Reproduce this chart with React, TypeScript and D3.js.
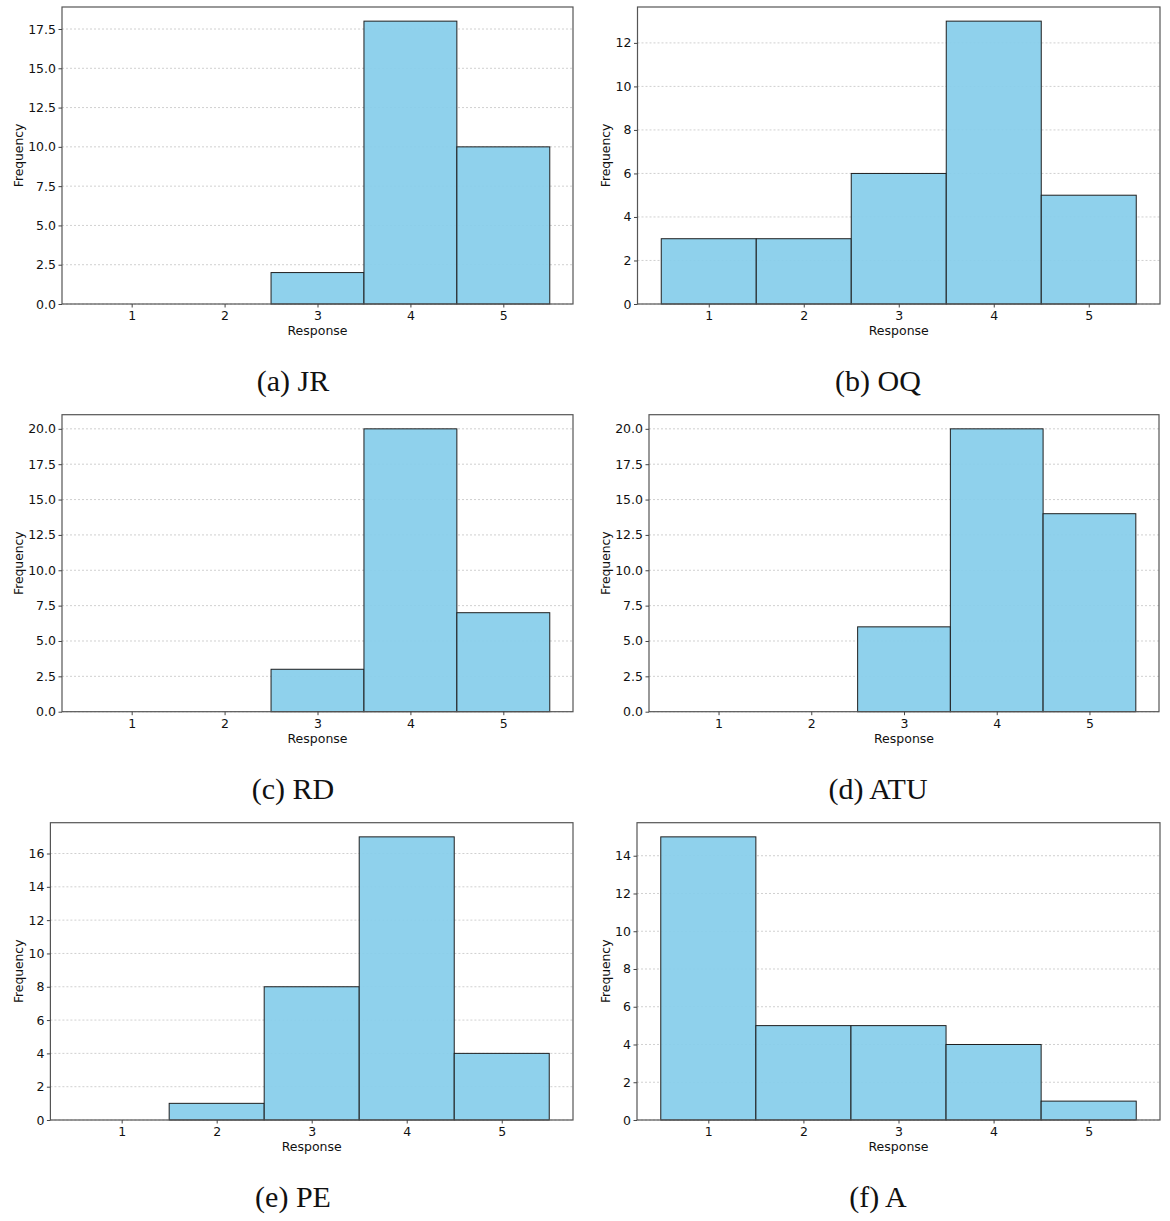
import React, { useEffect, useRef } from 'react';
import * as d3 from 'd3';

// Response categories (Likert 1..5)
const responses = [1, 2, 3, 4, 5];

// Frequencies per construct
const jrCounts = [0, 0, 2, 18, 10];
const oqCounts = [3, 3, 6, 13, 5];
const rdCounts = [0, 0, 3, 20, 7];
const atuCounts = [0, 0, 6, 20, 14];
const peCounts = [0, 1, 8, 17, 4];
const aCounts = [15, 5, 5, 4, 1];

const captions = ['(a) JR', '(b) OQ', '(c) RD', '(d) ATU', '(e) PE', '(f) A'];

// y tick steps as matplotlib picked them
const yStep = [2.5, 2, 2.5, 2.5, 2, 2];

// panel frames [left, right, top, bottom] in page pixels
const frames = [
  [62, 573, 7, 304],
  [637.5, 1160, 7, 304],
  [62, 573, 414.7, 711.7],
  [649, 1159, 414.7, 711.7],
  [50.4, 573, 822.7, 1120],
  [637, 1160, 822.7, 1120],
];

const W = 1170;
const H = 1221;

const App: React.FC = () => {
  const svgRef = useRef<SVGSVGElement>(null);

  useEffect(() => {
    if (!svgRef.current) return;
    const svg = d3.select(svgRef.current);
    svg.selectAll('*').remove();

    const series = [jrCounts, oqCounts, rdCounts, atuCounts, peCounts, aCounts];
    const tickFont = 'DejaVu Sans, sans-serif';

    series.forEach((counts, i) => {
      const [L, R, T, B] = frames[i];
      const maxV = d3.max(counts) || 1;

      const x = d3.scaleLinear().domain([0.25, 5.75]).range([L, R]);
      const y = d3.scaleLinear().domain([0, maxV * 1.05]).range([B, T]);

      const step = yStep[i];
      const yTicks = d3.range(0, maxV * 1.05 + 1e-9, step);
      const fmt = step % 1 !== 0 ? d3.format('.1f') : d3.format('d');

      const g = svg.append('g');

      // Grid
      g.append('g')
        .selectAll('line')
        .data(yTicks)
        .join('line')
        .attr('x1', L)
        .attr('x2', R)
        .attr('y1', d => y(d))
        .attr('y2', d => y(d))
        .attr('stroke', '#c4c4c4')
        .attr('stroke-width', 0.8)
        .attr('stroke-dasharray', '2,2');

      // Bars (histogram bins of width 1 centred on each response)
      g.append('g')
        .selectAll('rect')
        .data(responses.map((r, k) => ({ r, v: counts[k] })).filter(d => d.v > 0))
        .join('rect')
        .attr('x', d => x(d.r - 0.5))
        .attr('width', d => x(d.r + 0.5) - x(d.r - 0.5))
        .attr('y', d => y(d.v))
        .attr('height', d => y(0) - y(d.v))
        .attr('fill', '#87CEEB')
        .attr('fill-opacity', 0.93)
        .attr('stroke', '#1f1f1f')
        .attr('stroke-width', 1);

      // Frame
      g.append('rect')
        .attr('x', L)
        .attr('y', T)
        .attr('width', R - L)
        .attr('height', B - T)
        .attr('fill', 'none')
        .attr('stroke', '#555')
        .attr('stroke-width', 1.2);

      // Axes
      const xAxis = g.append('g')
        .attr('transform', `translate(0,${B})`)
        .call(d3.axisBottom(x).tickValues(responses).tickSize(3.5).tickPadding(3.5).tickFormat(d3.format('d')));
      const yAxis = g.append('g')
        .attr('transform', `translate(${L},0)`)
        .call(d3.axisLeft(y).tickValues(yTicks).tickSize(3.5).tickPadding(2.5).tickFormat(d => fmt(d as number)));

      [xAxis, yAxis].forEach(ax => {
        ax.select('.domain').remove();
        ax.selectAll('line').attr('stroke', '#444');
        ax.selectAll('text')
          .attr('fill', '#111')
          .style('font-family', tickFont)
          .style('font-size', '12.5px');
      });

      // Axis labels
      g.append('text')
        .attr('x', (L + R) / 2)
        .attr('y', B + 31)
        .attr('text-anchor', 'middle')
        .style('font-family', tickFont)
        .style('font-size', '12.5px')
        .attr('fill', '#111')
        .text('Response');

      let minX = L;
      yAxis.selectAll<SVGTextElement, unknown>('text').each(function () {
        const bb = this.getBBox();
        const ctm = this.getCTM();
        const left = bb.x + (ctm ? ctm.e : 0);
        if (left < minX) minX = left;
      });
      const labX = minX - 9.5;
      const labY = (T + B) / 2;
      g.append('text')
        .attr('transform', `translate(${labX},${labY}) rotate(-90)`)
        .attr('text-anchor', 'middle')
        .attr('dy', '0.35em')
        .style('font-family', tickFont)
        .style('font-size', '12.3px')
        .attr('fill', '#111')
        .text('Frequency');

      // Caption
      const col = i % 2;
      const row = Math.floor(i / 2);
      g.append('text')
        .attr('x', col === 0 ? 293 : 878)
        .attr('y', 391 + row * 408)
        .attr('text-anchor', 'middle')
        .style('font-family', '"Liberation Serif", "Times New Roman", serif')
        .style('font-size', '30px')
        .attr('fill', '#111')
        .text(captions[i]);
    });
  }, []);

  return (
    <svg
      ref={svgRef}
      width={W}
      height={H}
      style={{ position: 'absolute', left: 0, top: 0, background: '#fff' }}
    />
  );
};

export default App;
